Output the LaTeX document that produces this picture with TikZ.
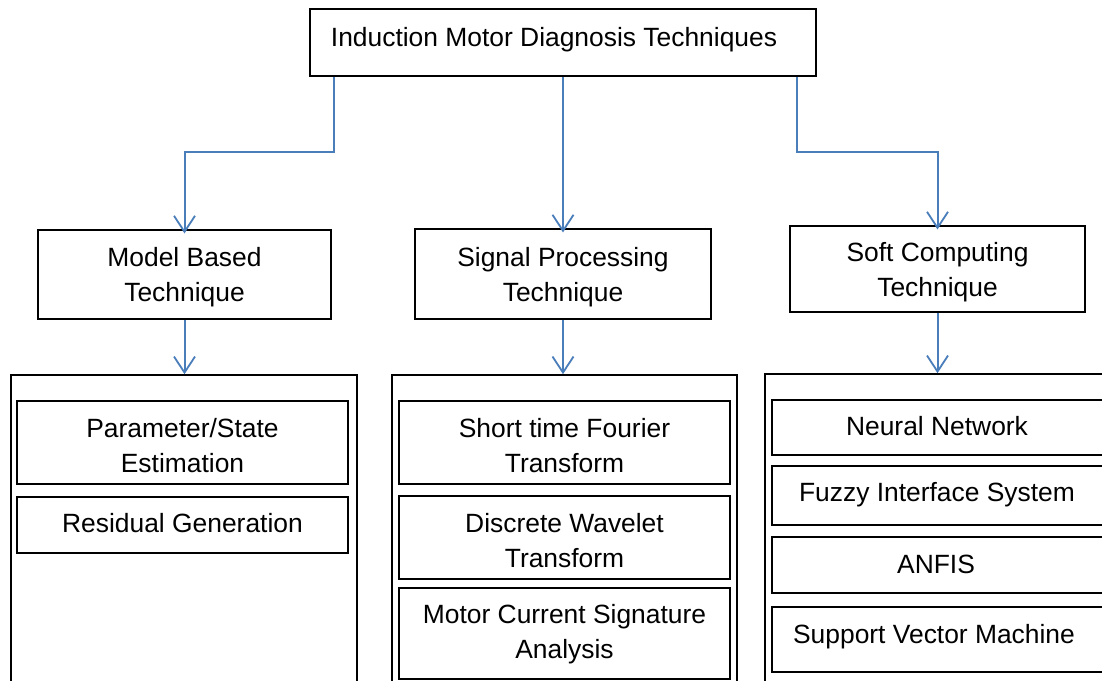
\documentclass[tikz,border=0pt]{standalone}
\usepackage{fontspec}
\setmainfont{Liberation Sans}
\usetikzlibrary{arrows.meta,calc}
\definecolor{linkblue}{RGB}{74,126,187}
\begin{document}
\begin{tikzpicture}[x=1pt,y=-1pt,
  every node/.style={font=\fontsize{26.4}{35}\selectfont},
  box/.style={draw=black, line width=1.1pt, rectangle, inner sep=0pt, align=center},
  group/.style={draw=black, line width=1.6pt, rectangle, inner sep=0pt},
  twolines/.style={label={[align=center,yshift=-3pt]center:#1}},
  conn/.style={draw=linkblue, line width=2pt,
    -{Straight Barb[length=16pt,width=21pt,line width=1.8pt]}},
  sized/.style 2 args={minimum width=#1, minimum height=#2}]
\fill[white] (0,0) rectangle (1102,680);
\clip (0,0) rectangle (1102,680);

% root
\node[box, sized={506pt}{67pt},
  label={[xshift=-9pt,yshift=2.5pt]center:Induction Motor Diagnosis Techniques}]
  (top) at (563,42.5) {};

% second level
\node[box, sized={293pt}{89pt}, twolines={Model Based\\Technique}] (mb) at (184.5,274.5) {};
\node[box, sized={296pt}{90pt}, twolines={Signal Processing\\Technique}] (sp) at (563,274) {};
\node[box, sized={295pt}{86pt}, twolines={Soft Computing\\Technique}] (sc) at (937.5,269) {};

% group frames
\node[group, sized={346pt}{330pt}] (lo) at (184,540) {};
\node[group, sized={345pt}{330pt}] (mo) at (564.5,540) {};
\node[group, sized={360pt}{330pt}] (ro) at (945,539) {};

% model based items
\node[box, sized={331pt}{83pt}, twolines={Parameter/State\\Estimation}] (pse) at (182.5,442.5) {};
\node[box, sized={331pt}{56pt}, label={[yshift=2pt]center:Residual Generation}] (rg) at (182.5,525) {};

% signal processing items
\node[box, sized={331pt}{83pt}, twolines={Short time Fourier\\Transform}] (stft) at (564.5,442.5) {};
\node[box, sized={331pt}{83pt}, twolines={Discrete Wavelet\\Transform}] (dwt) at (564.5,537.5) {};
\node[box, sized={331pt}{91pt}, label={[align=center,yshift=-0.5pt]center:Motor Current Signature\\Analysis}] (mcsa) at (564.5,633.5) {};

% soft computing items
\node[box, sized={346pt}{55pt}, label={[xshift=-8pt,yshift=1pt]center:Neural Network}] (nn) at (945,427.5) {};
\node[box, sized={346pt}{59pt}, label={[xshift=-8pt,yshift=1pt]center:Fuzzy Interface System}] (fis) at (945,495.5) {};
\node[box, sized={346pt}{56pt}, label={[xshift=-9pt,yshift=1pt]center:ANFIS}] (anfis) at (945,565) {};
\node[box, sized={346pt}{65pt}, label={[xshift=-11pt,yshift=3pt]center:Support Vector Machine}] (svm) at (945,639.5) {};

% connectors
\draw[conn] ([xshift=2pt]top.south -| mb.north east) -- ++(0,75) -| ([yshift=-4pt]mb.north);
\draw[conn] (top.south) -- ([yshift=-4pt]sp.north);
\draw[conn] ([xshift=-20pt]top.south east) -- ++(0,75) -| ([yshift=-4pt]sc.north);
\draw[conn] (mb.south) -- (mb.south |- lo.north);
\draw[conn] (sp.south) -- (sp.south |- mo.north);
\draw[conn] (sc.south) -- (sc.south |- ro.north);
\end{tikzpicture}
\end{document}
